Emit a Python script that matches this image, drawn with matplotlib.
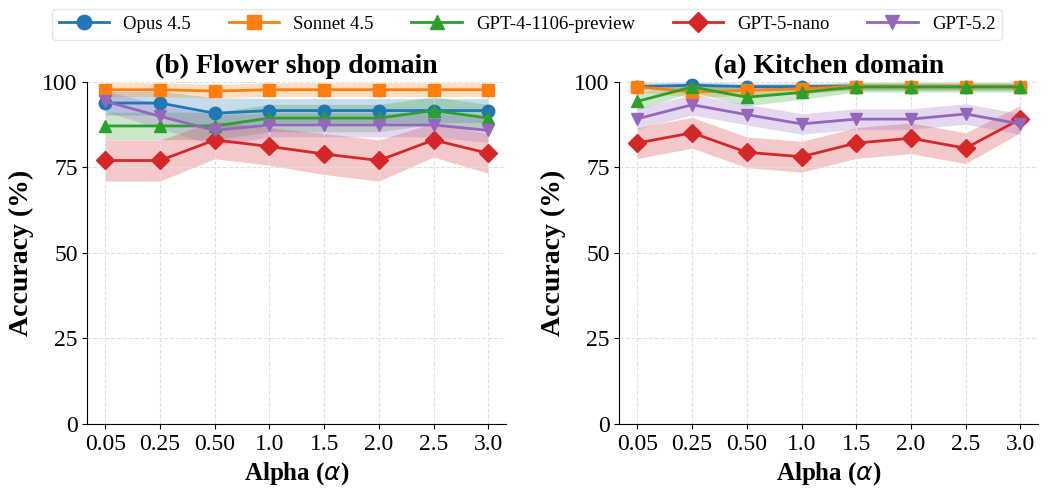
"""Accuracy vs alpha for two domains."""

import matplotlib

matplotlib.use("Agg")

import matplotlib.pyplot as plt
import numpy as np

plt.rcParams["font.family"] = ["Liberation Serif", "DejaVu Serif"]
plt.rcParams["mathtext.fontset"] = "dejavusans"

ALPHAS = ["0.05", "0.25", "0.50", "1.0", "1.5", "2.0", "2.5", "3.0"]
MODELS = ["Opus 4.5", "Sonnet 4.5", "GPT-4-1106-preview", "GPT-5-nano", "GPT-5.2"]
COLORS = ["#1f77b4", "#ff7f0e", "#2ca02c", "#d62728", "#9467bd"]
MARKERS = ["o", "s", "^", "D", "v"]

# flower shop domain (left panel)
flower_mean = [
  [93.8, 93.8, 90.8, 91.6, 91.6, 91.6, 91.6, 91.6],
  [97.7, 97.7, 97.3, 97.7, 97.7, 97.7, 97.7, 97.7],
  [87.1, 87.1, 87.1, 89.4, 89.4, 89.4, 91.6, 89.4],
  [77.0, 77.0, 83.0, 81.1, 78.9, 77.0, 83.0, 79.1],
  [94.3, 89.9, 85.8, 87.4, 87.4, 87.4, 87.4, 85.8],
]
flower_std = [
  [3.5, 3.5, 4.5, 3.5, 3.5, 3.5, 3.5, 3.5],
  [2.0, 2.0, 2.0, 2.0, 2.0, 2.0, 2.0, 2.0],
  [4.0, 4.0, 4.0, 4.0, 4.0, 4.0, 4.0, 4.0],
  [6.0, 6.0, 5.5, 5.5, 6.0, 6.0, 5.0, 5.8],
  [3.0, 3.5, 4.5, 3.5, 3.5, 3.5, 3.5, 3.5],
]

# kitchen domain (right panel)
kitchen_mean = [
  [98.6, 99.0, 98.6, 98.6, 98.6, 98.6, 98.6, 98.6],
  [98.6, 97.0, 97.5, 98.0, 98.6, 98.6, 98.6, 98.6],
  [94.3, 98.5, 95.5, 96.9, 98.5, 98.5, 98.5, 98.5],
  [82.1, 85.1, 79.4, 78.1, 82.1, 83.5, 80.6, 89.1],
  [89.2, 93.3, 90.4, 87.7, 89.1, 89.1, 90.6, 87.7],
]
kitchen_std = [
  [1.0, 1.0, 1.0, 1.0, 1.0, 1.0, 1.0, 1.0],
  [1.5, 1.5, 1.5, 1.5, 1.0, 1.0, 1.0, 1.0],
  [2.5, 1.5, 2.5, 2.0, 1.5, 1.5, 1.5, 1.5],
  [4.5, 4.5, 4.5, 4.5, 4.5, 4.5, 4.5, 4.0],
  [3.0, 3.0, 3.0, 3.0, 3.0, 3.0, 3.0, 3.0],
]


def draw_panel(ax, means, stds, title):
  x = np.arange(len(ALPHAS))
  for i, model in enumerate(MODELS):
    m = np.array(means[i])
    s = np.array(stds[i])
    ax.fill_between(x, m - s, np.minimum(m + s, 100), color=COLORS[i], alpha=0.25, linewidth=0)
    ax.plot(
      x, m, color=COLORS[i], marker=MARKERS[i], markersize=9,
      linewidth=2, label=model, clip_on=False, zorder=3,
    )
  ax.set_xticks(x)
  ax.set_xticklabels(ALPHAS)
  ax.set_xlim(-0.33, len(ALPHAS) - 1 + 0.33)
  ax.set_ylim(0, 100)
  ax.set_yticks([0, 25, 50, 75, 100])
  ax.tick_params(labelsize=17)
  ax.grid(True, linestyle="--", color="0.88", linewidth=0.8)
  ax.spines["top"].set_visible(False)
  ax.spines["right"].set_visible(False)
  ax.set_title(title, fontsize=20, fontweight="bold", pad=6)
  ax.set_xlabel(r"Alpha ($\alpha$)", fontsize=18, fontweight="bold", labelpad=4)
  ax.set_ylabel("Accuracy (%)", fontsize=20, fontweight="bold", labelpad=6)


fig, axes = plt.subplots(1, 2, figsize=(10.52, 4.9), dpi=100)
draw_panel(axes[0], flower_mean, flower_std, "(b) Flower shop domain")
draw_panel(axes[1], kitchen_mean, kitchen_std, "(a) Kitchen domain")

handles, labels = axes[0].get_legend_handles_labels()
fig.legend(
  handles, labels, loc="upper center", ncol=5, fontsize=13.5,
  bbox_to_anchor=(0.501, 1.0), frameon=True, handlelength=2.7,
  handletextpad=0.75, columnspacing=2.0, markerscale=1.15,
  edgecolor="0.88", borderpad=0.35,
)
fig.subplots_adjust(left=0.083, right=0.987, bottom=0.135, top=0.833, wspace=0.27)
fig.savefig("out.png")
